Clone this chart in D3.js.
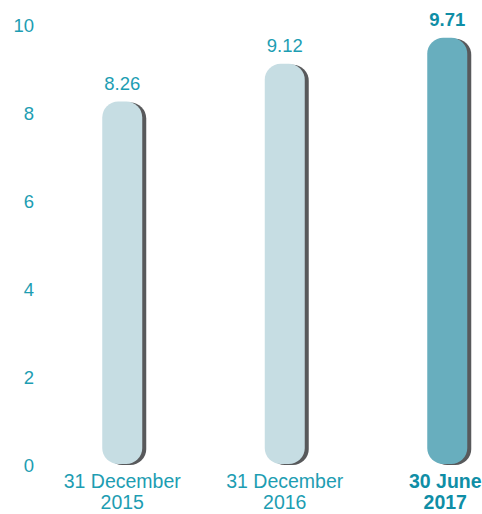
<!DOCTYPE html>
<html><head><meta charset="utf-8">
<script src="https://cdn.jsdelivr.net/npm/d3@7"></script>
<style>body{margin:0;background:#fff}svg{display:block}text{font-family:"Liberation Sans",Arial,Helvetica,sans-serif}</style>
</head><body>
<svg id="c" width="482" height="514"></svg>
<script>
const categories = [["31 December","2015"],["31 December","2016"],["30 June","2017"]];
const values = [8.26, 9.12, 9.71];
const valueLabels = ["8.26","9.12","9.71"];
const highlight = [false, false, true];
const yTicks = [0,2,4,6,8,10];

const svg = d3.select("#c");
const y = d3.scaleLinear().domain([0,10]).range([465,25]);
const x = d3.scaleBand().domain(d3.range(values.length)).range([41,528.5]).padding(0);
const bw = 40, r = 16, teal = "#1d9db2";

function roundedBar(x0, y0, w, h, rr){
  const p = d3.path();
  p.moveTo(x0, y0+rr);
  p.arcTo(x0, y0, x0+rr, y0, rr);
  p.lineTo(x0+w-rr, y0);
  p.arcTo(x0+w, y0, x0+w, y0+rr, rr);
  p.lineTo(x0+w, y0+h-rr);
  p.arcTo(x0+w, y0+h, x0+w-rr, y0+h, rr);
  p.lineTo(x0+rr, y0+h);
  p.arcTo(x0, y0+h, x0, y0+h-rr, rr);
  p.closePath();
  return p.toString();
}

// y tick labels
svg.append("g").selectAll("text").data(yTicks).join("text")
  .attr("x", 34).attr("y", d => y(d)).attr("dy","0.36em")
  .attr("text-anchor","end").attr("font-size",18.5).attr("fill",teal)
  .text(d => d);

const g = svg.append("g").selectAll("g").data(values).join("g");
g.append("path")
  .attr("d", (d,i) => roundedBar(x(i)+x.bandwidth()/2-bw/2+4, y(d)+1, bw, y(0)-y(d)-1, r))
  .attr("fill","#58595b");
g.append("path")
  .attr("d", (d,i) => roundedBar(x(i)+x.bandwidth()/2-bw/2, y(d), bw, y(0)-y(d)-1, r))
  .attr("fill",(d,i) => highlight[i] ? "#68aebe" : "#c6dde3");
g.append("text")
  .attr("x",(d,i)=>x(i)+x.bandwidth()/2).attr("y", d => y(d)-12)
  .attr("text-anchor","middle").attr("font-size",18.5)
  .attr("font-weight",(d,i)=>highlight[i]?"bold":"normal")
  .attr("fill",(d,i)=>highlight[i]?"#0f8ea6":teal)
  .text((d,i)=>valueLabels[i]);
g.each(function(d,i){
  const t = d3.select(this).append("text")
    .attr("text-anchor","middle").attr("font-size",19.5)
    .attr("font-weight",highlight[i]?"bold":"normal")
    .attr("fill",highlight[i]?"#0f8ea6":teal);
  categories[i].forEach((line,k)=>{
    t.append("tspan").attr("x", x(i)+x.bandwidth()/2 - (highlight[i]?2:0)).attr("y", 488+k*21).text(line);
  });
});
</script>
</body></html>
